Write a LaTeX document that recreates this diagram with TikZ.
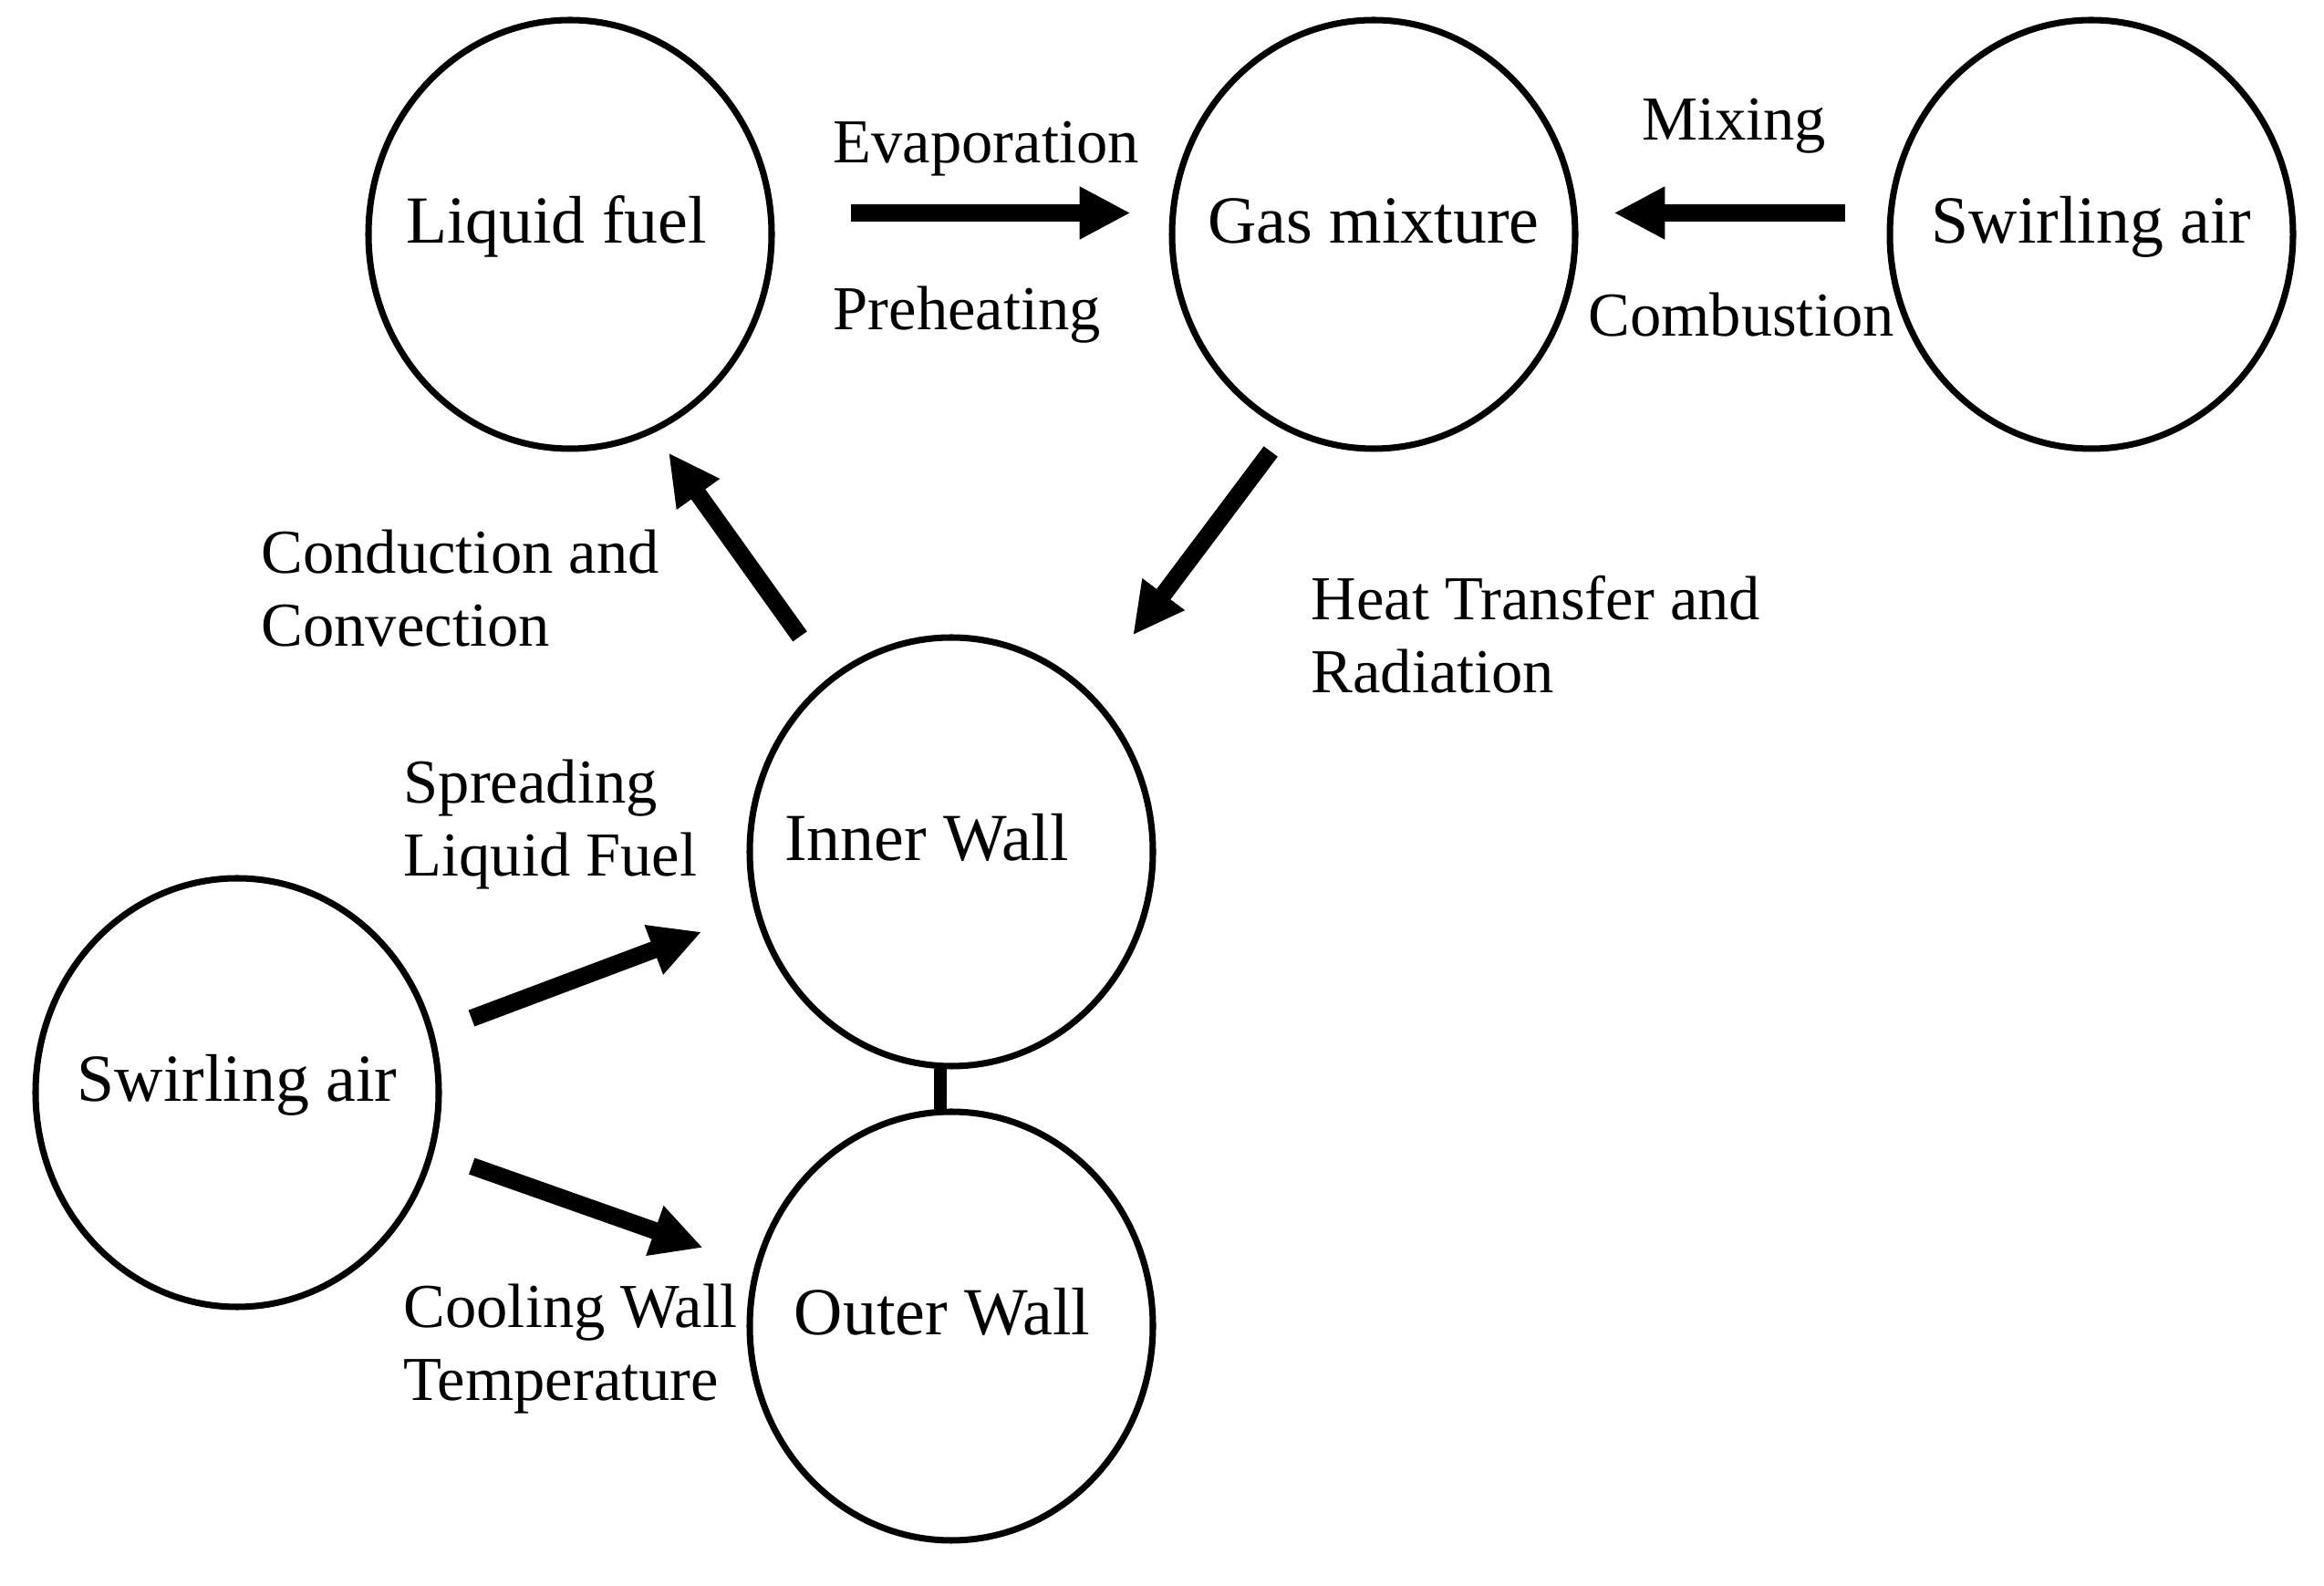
\documentclass[tikz,border=0pt]{standalone}
\usepackage{fontspec}
\setmainfont{Liberation Serif}
\usetikzlibrary{arrows.meta,shapes.geometric}
\newcommand{\stagename}[2][0pt]{\hspace*{-#1}\raisebox{-0.1cm}[0pt][0pt]{\makebox[0pt]{#2}}\hspace*{#1}}

\begin{document}
\begin{tikzpicture}[>={Triangle[length=0.56cm,width=0.54cm]},
    stage/.style={draw,ellipse,line width=2pt,minimum width=4.42cm,minimum height=4.70cm,inner sep=0pt,font=\fontsize{21}{24}\selectfont},
    flow/.style={->,line width=0.19cm},
    lbl/.style={align=left,inner sep=0pt,font=\fontsize{19.5}{22.8}\selectfont}]
      \useasboundingbox (0,0) rectangle (25.48,-17.39);
      % the six stages
      \node[stage] (liquid) at (6.25,-2.57) {\stagename[0.15cm]{Liquid fuel}};
      \node[stage] (gas) at (15.06,-2.57) {\stagename{Gas mixture}};
      \node[stage] (swirlT) at (22.93,-2.57) {\stagename{Swirling air}};
      \node[stage] (inner) at (10.43,-9.34) {\stagename[0.27cm]{Inner Wall}};
      \node[stage] (outer) at (10.43,-14.54) {\stagename[0.1cm]{Outer Wall}};
      \node[stage] (swirlL) at (2.60,-11.98) {\stagename{Swirling air}};
      % processes
      \node[lbl,anchor=west] (evapLbl) at (9.13,-1.63) {Evaporation};
      \node[lbl,anchor=west] (preLbl) at (9.13,-3.45) {Preheating};
      \node[lbl] (mixLbl) at (19.01,-1.38) {Mixing};
      \node[lbl] (combLbl) at (19.09,-3.45) {Combustion};
      \node[lbl,anchor=west] (condLbl) at (2.86,-6.45) {Conduction and\\Convection};
      \node[lbl,anchor=west] (heatLbl) at (14.37,-6.96) {Heat Transfer and\\Radiation};
      \node[lbl,anchor=west] (spreadLbl) at (4.42,-9.04) {Spreading\\Liquid Fuel};
      \node[lbl,anchor=west] (coolLbl) at (4.42,-14.79) {Cooling Wall\\Temperature};
      % arrows
      \draw[flow,shorten <=0.85cm,shorten >=0.43cm] (liquid.6) -- (gas.174);
      \draw[flow,shorten <=0.47cm,shorten >=0.40cm] (swirlT.174) -- (gas.6);
      \draw[flow,shorten <=0.28cm,shorten >=0.78cm] (gas.246) -- (inner.49);
      \draw[flow,shorten <=0.55cm,shorten >=0.27cm] (inner.125) -- (liquid.293);
      \draw[flow,shorten <=0.44cm,shorten >=0.62cm] (swirlL.17) -- (inner.197);
      \draw[flow,shorten <=0.44cm,shorten >=0.60cm] (swirlL.343) -- (outer.163);
      \draw[line width=0.14cm] (inner.267) -- (outer.93);
    \end{tikzpicture}
\end{document}
